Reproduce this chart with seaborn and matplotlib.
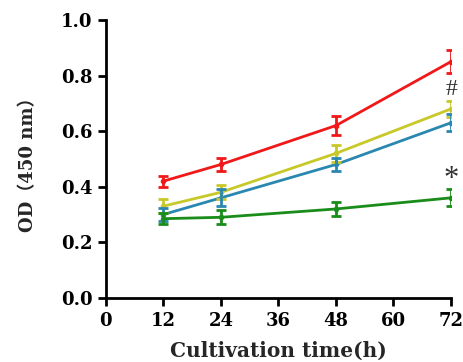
import numpy as np
import pandas as pd
import matplotlib
matplotlib.use('Agg')
import matplotlib.pyplot as plt
import seaborn as sns

# ── Data ───────────────────────────────────────────────────────────────
hours = [12, 24, 48, 72]
groups = ['red', 'yellow', 'blue', 'green']
red_od = [0.42, 0.48, 0.62, 0.85]
red_err = [0.02, 0.025, 0.035, 0.04]
yellow_od = [0.33, 0.38, 0.52, 0.68]
yellow_err = [0.025, 0.025, 0.03, 0.03]
blue_od = [0.30, 0.36, 0.48, 0.63]
blue_err = [0.025, 0.03, 0.025, 0.03]
green_od = [0.285, 0.29, 0.32, 0.36]
green_err = [0.02, 0.025, 0.025, 0.03]

colors = {'red': '#f01818', 'yellow': '#c8c828', 'blue': '#2a88b0', 'green': '#1a8c1a'}

df = pd.DataFrame({
    'time': hours * 4,
    'od': red_od + yellow_od + blue_od + green_od,
    'err': red_err + yellow_err + blue_err + green_err,
    'group': [g for g in groups for _ in hours],
})

sns.set_theme(style='ticks')
plt.rcParams['font.family'] = ['DejaVu Serif', 'Noto Sans CJK SC']
plt.rcParams['font.weight'] = 'bold'

fig = plt.figure(figsize=(4.64, 3.62), dpi=100)
ax = fig.add_axes([0.228, 0.177, 0.744, 0.768])

sns.lineplot(data=df, x='time', y='od', hue='group', palette=colors,
             linewidth=2, marker='o', markersize=4, markeredgewidth=0,
             legend=False, ax=ax)
for g in groups:
    sub = df[df['group'] == g]
    ax.errorbar(sub['time'], sub['od'], yerr=sub['err'], fmt='none',
                ecolor=colors[g], elinewidth=2, capsize=3.5, capthick=2)

# significance marks
ax.text(72, 0.712, '#', ha='center', va='bottom', fontsize=17,
        fontweight='normal', color='#333333', family='Liberation Serif')
ax.text(72, 0.375, '*', ha='center', va='bottom', fontsize=22,
        fontweight='normal', color='#333333', family='Liberation Serif')

ax.set_xlim(0, 72)
ax.set_ylim(0, 1.0)
ax.set_xticks(range(0, 73, 12))
ax.set_yticks(np.arange(0, 1.01, 0.2))
ax.set_yticklabels([f'{v:.1f}' for v in np.arange(0, 1.01, 0.2)])
ax.tick_params(axis='both', direction='out', length=6, width=2,
               labelsize=13, colors='black')
ax.tick_params(axis='x', pad=4)
for lab in ax.get_xticklabels() + ax.get_yticklabels():
    lab.set_fontweight('bold')

for s in ['top', 'right']:
    ax.spines[s].set_visible(False)
for s in ['left', 'bottom']:
    ax.spines[s].set_linewidth(2)
    ax.spines[s].set_color('black')

ax.set_xlabel('Cultivation time(h)', fontsize=14.5, fontweight='bold', labelpad=8)
ax.set_ylabel('OD（450 nm）', fontsize=13, fontweight='bold')
ax.yaxis.set_label_coords(-0.2, 0.495)

fig.savefig('out.png', dpi=100)
